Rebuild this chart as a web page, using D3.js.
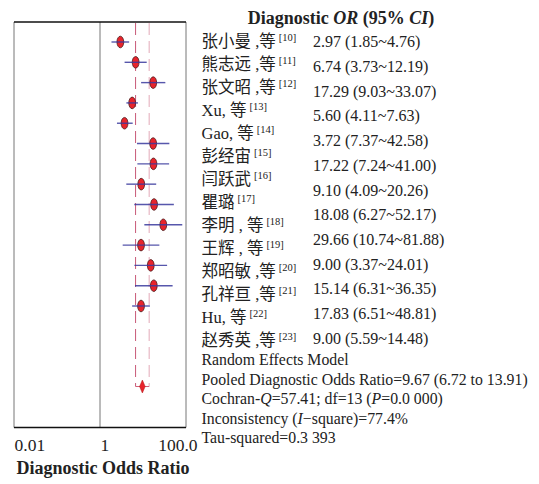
<!DOCTYPE html>
<html>
<head>
<meta charset="utf-8">
<script src="https://cdn.jsdelivr.net/npm/d3@7"></script>
<style>
  body { margin: 0; background: #fff; }
  svg { display: block; }
  text { font-family: "Liberation Serif", "Noto Sans CJK SC", serif; fill: #222; }
</style>
</head>
<body>
<svg id="chart" width="539" height="484"></svg>
<script>
// studies (plotted odds ratios and 95% CI as drawn)
const studies = ['张小曼 ,等', '熊志远 ,等', '张文昭 ,等', 'Xu, 等', 'Gao, 等', '彭经宙', '闫跃武',
  '瞿璐', '李明 , 等', '王辉 , 等', '郑昭敏 ,等', '孔祥亘 ,等', 'Hu, 等', '赵秀英 ,等'];
const refs = ['[10]', '[11]', '[12]', '[13]', '[14]', '[15]', '[16]', '[17]', '[18]', '[19]', '[20]', '[21]', '[22]', '[23]'];
const oddsRatio = [2.97, 6.74, 17.29, 5.60, 3.72, 17.22, 17.5, 9.10, 18.08, 29.66, 9.00, 15.14, 17.83, 9.00];
const ciLower = [1.85, 3.73, 9.03, 4.11, 2.48, 7.24, 7.4, 4.09, 6.27, 10.74, 3.37, 6.31, 6.51, 5.59];
const ciUpper = [4.76, 12.19, 33.07, 7.63, 5.76, 41.00, 40.5, 20.26, 52.17, 81.88, 24.01, 36.35, 48.81, 14.48];

// value column as printed
const orLabels = ['2.97 (1.85~4.76)', '6.74 (3.73~12.19)', '17.29 (9.03~33.07)', '5.60 (4.11~7.63)',
  '3.72 (7.37~42.58)', '17.22 (7.24~41.00)', '9.10 (4.09~20.26)', '18.08 (6.27~52.17)',
  '29.66 (10.74~81.88)', '9.00 (3.37~24.01)', '15.14 (6.31~36.35)', '17.83 (6.51~48.81)', '9.00 (5.59~14.48)'];

const pooled = { or: 9.67, lo: 6.72, hi: 13.91 };
const tickValues = [0.01, 1, 100];
const tickLabels = ['0.01', '1', '100.0'];

const svg = d3.select('#chart');

const x = d3.scaleLog().domain([0.01, 100]).range([14, 186]);
const y = d3.scalePoint().domain(d3.range(studies.length)).range([42, 306]);
const pooledY = 386.5;
const plotTop = 22, plotBottom = 427.5;

// frame
svg.append('line').attr('x1', x(0.01)).attr('x2', x(0.01)).attr('y1', plotTop).attr('y2', plotBottom)
  .attr('stroke', '#777').attr('stroke-width', 1);
svg.append('line').attr('x1', x(100)).attr('x2', x(100)).attr('y1', plotTop).attr('y2', plotBottom)
  .attr('stroke', '#777').attr('stroke-width', 1);
svg.append('line').attr('x1', x(1)).attr('x2', x(1)).attr('y1', plotTop).attr('y2', plotBottom)
  .attr('stroke', '#777').attr('stroke-width', 1);
svg.append('line').attr('x1', x(0.01)).attr('x2', x(100)).attr('y1', plotTop).attr('y2', plotTop)
  .attr('stroke', '#111').attr('stroke-width', 1.6);
svg.append('line').attr('x1', x(0.01)).attr('x2', x(100)).attr('y1', plotBottom).attr('y2', plotBottom)
  .attr('stroke', '#111').attr('stroke-width', 1.6);

// pooled CI dashed lines
svg.append('line').attr('x1', x(pooled.lo)).attr('x2', x(pooled.lo)).attr('y1', plotTop + 1).attr('y2', pooledY)
  .attr('stroke', '#c85a78').attr('stroke-width', 1).attr('stroke-dasharray', '12,6');
svg.append('line').attr('x1', x(pooled.hi)).attr('x2', x(pooled.hi)).attr('y1', plotTop + 1).attr('y2', pooledY)
  .attr('stroke', '#e3a9b8').attr('stroke-width', 1).attr('stroke-dasharray', '12,6');
svg.append('line').attr('x1', x(pooled.lo)).attr('x2', x(pooled.hi)).attr('y1', pooledY).attr('y2', pooledY)
  .attr('stroke', '#d06078').attr('stroke-width', 1);

// study markers
const g = svg.append('g');
const rows = g.selectAll('g.row').data(d3.range(studies.length)).join('g').attr('class', 'row');
rows.append('ellipse')
  .attr('cx', i => x(oddsRatio[i])).attr('cy', i => y(i))
  .attr('rx', 3.4).attr('ry', 5.8)
  .attr('fill', '#e8242c').attr('stroke', '#4a1818').attr('stroke-width', 0.8);
rows.append('line')
  .attr('x1', i => x(ciLower[i])).attr('x2', i => x(ciUpper[i]))
  .attr('y1', i => y(i)).attr('y2', i => y(i))
  .attr('stroke', '#3a3a9e').attr('stroke-width', 1.4).attr('opacity', 0.85);

// pooled diamond
const px = x(pooled.or);
svg.append('path')
  .attr('d', `M${px},${pooledY - 6.5}L${px + 2.8},${pooledY}L${px},${pooledY + 6.5}L${px - 2.8},${pooledY}Z`)
  .attr('fill', '#e8242c').attr('stroke', '#b01818').attr('stroke-width', 0.5);

// x axis
const axis = d3.axisBottom(x).tickValues(tickValues).tickFormat((d, i) => tickLabels[i]).tickSize(0);
const ax = svg.append('g').attr('transform', `translate(0,${plotBottom})`).call(axis);
ax.select('.domain').remove();
ax.selectAll('text')
  .attr('y', 23.5).attr('dy', 0)
  .style('font-family', '"Liberation Serif", serif').style('font-size', '17.5px').style('fill', '#222')
  .attr('text-anchor', (d, i) => ['start', 'start', 'end'][i])
  .attr('dx', (d, i) => [0, 0, 11][i]);

svg.append('text').attr('x', 103).attr('y', 474).attr('text-anchor', 'middle')
  .style('font-size', '18px').style('font-weight', 'bold').text('Diagnostic Odds Ratio');

// title
const title = svg.append('text').attr('x', 341).attr('y', 24).attr('text-anchor', 'middle')
  .style('font-size', '18px').style('font-weight', 'bold');
title.append('tspan').text('Diagnostic ');
title.append('tspan').style('font-style', 'italic').text('OR');
title.append('tspan').text(' (95% ');
title.append('tspan').style('font-style', 'italic').text('CI');
title.append('tspan').text(')');

// study names
const nameStep = (340 - 41.7) / (studies.length - 1);
const names = svg.append('g').selectAll('text').data(studies).join('text')
  .attr('x', 201.5).attr('y', (d, i) => 41.7 + i * nameStep + 5.5)
  .style('font-size', '16.5px');
names.append('tspan').text(d => d);
names.append('tspan').attr('dx', 3).attr('dy', -6).style('font-size', '10.5px').text((d, i) => refs[i]);

// value column
const valStep = (338.3 - 41.7) / (orLabels.length - 1);
svg.append('g').selectAll('text').data(orLabels).join('text')
  .attr('x', 313).attr('y', (d, i) => 41.7 + i * valStep + 5.5)
  .style('font-size', '16px').text(d => d);

// model summary
const stats = [
  [['Random Effects Model', false]],
  [['Pooled Diagnostic Odds Ratio=9.67 (6.72 to 13.91)', false]],
  [['Cochran-', false], ['Q', true], ['=57.41; df=13 (', false], ['P', true], ['=0.0 000)', false]],
  [['Inconsistency (', false], ['I', true], ['−square)=77.4%', false]],
  [['Tau-squared=0.3 393', false]]
];
const st = svg.append('g').selectAll('text').data(stats).join('text')
  .attr('x', 201.5).attr('y', (d, i) => 365 + i * 19.6)
  .style('font-size', '15.8px');
st.selectAll('tspan').data(d => d).join('tspan')
  .style('font-style', d => d[1] ? 'italic' : 'normal')
  .text(d => d[0]);
</script>
</body>
</html>
